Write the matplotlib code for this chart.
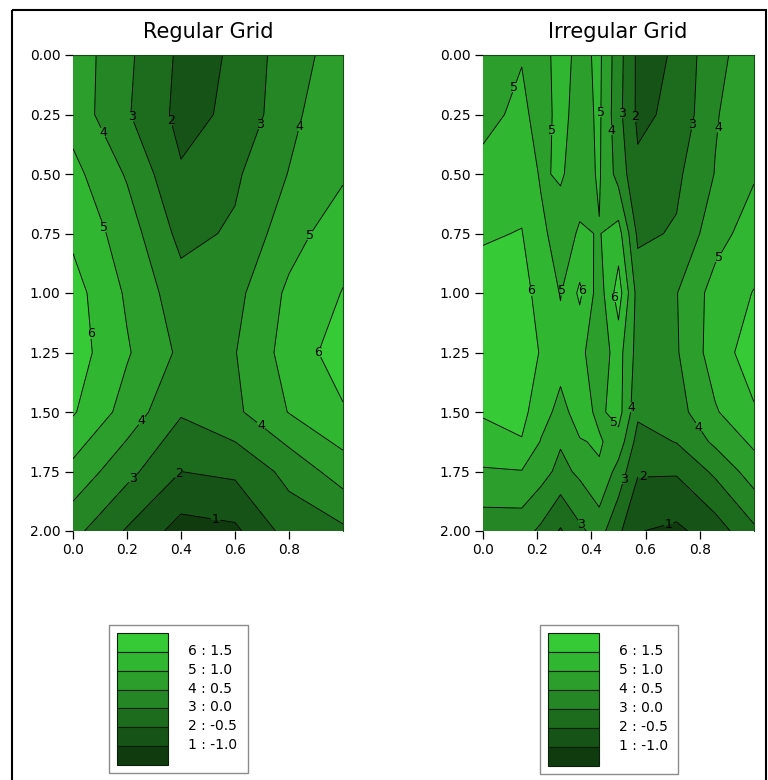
import numpy as np
import matplotlib
matplotlib.use('Agg')
import matplotlib.pyplot as plt
from matplotlib.patches import Rectangle

plt.rcParams['font.family'] = ['DejaVu Sans']

# contour levels and their short names
levels = [-1.0, -0.5, 0.0, 0.5, 1.0, 1.5]
level_names = ['1', '2', '3', '4', '5', '6']
# fill colours from lowest band (< -1.0) to highest (> 1.5)
band_colors = ['#0f3b0f', '#165316', '#1d6c1d', '#248624', '#2b9e2b', '#30b630', '#36ca36']

# regular grid
reg_x = [0.0, 0.2, 0.4, 0.6, 0.8, 1.0]
reg_y = [0.0, 0.25, 0.5, 0.75, 1.0, 1.25, 1.5, 1.75, 2.0]
reg_z = [
    [0.80, 0.10, -0.60, -0.47, 0.31, 0.70],
    [0.80, 0.05, -0.65, -0.40, 0.35, 0.95],
    [1.15, 0.45, -0.45, -0.08, 0.52, 0.93],
    [1.40, 0.75, -0.15, 0.07, 0.79, 1.31],
    [1.70, 0.93, 0.21, 0.35, 1.10, 1.52],
    [1.75, 1.05, 0.40, 0.48, 1.20, 1.75],
    [1.55, 0.80, 0.05, 0.40, 1.02, 1.45],
    [0.85, 0.15, -0.50, -0.40, 0.15, 0.75],
    [0.15, -0.55, -1.20, -1.10, -0.30, -0.10],
]

# irregular grid
irr_x = [0.0, 0.143, 0.214, 0.286, 0.357, 0.429, 0.5, 0.571, 0.714, 0.857, 1.0]
irr_y = [0.0, 0.25, 0.5, 0.75, 1.0, 1.25, 1.5, 1.625, 1.75, 2.0]
irr_z = [
    [0.80, 0.97, 0.80, 1.20, 0.85, 1.10, 0.20, -0.60, -0.47, 0.42, 0.65],
    [0.85, 1.12, 0.80, 1.15, 0.80, 1.08, 0.15, -0.60, -0.39, 0.46, 0.85],
    [1.15, 1.30, 0.95, 1.05, 0.80, 1.05, 0.30, -0.40, -0.10, 0.52, 0.95],
    [1.45, 1.52, 1.10, 0.80, 1.05, 0.98, 1.20, -0.10, 0.05, 0.80, 1.25],
    [1.70, 1.60, 1.40, 0.97, 1.60, 0.75, 1.75, 0.30, 0.48, 1.20, 1.52],
    [1.75, 1.65, 1.48, 1.20, 1.10, 0.75, 1.20, 0.30, 0.45, 1.25, 1.75],
    [1.55, 1.65, 1.20, 0.85, 1.20, 0.90, 1.20, 0.10, 0.30, 0.95, 1.45],
    [1.30, 1.47, 0.97, 0.55, 0.97, 1.05, 0.80, -0.20, 0.02, 0.60, 1.10],
    [0.95, 0.98, 0.70, 0.35, 0.60, 0.95, 0.30, -0.45, -0.45, 0.10, 0.75],
    [0.20, 0.20, -0.10, -0.55, -0.10, 0.20, -0.40, -0.98, -1.10, -0.75, -0.10],
]

# where the contour numbers sit
reg_label_pos = [(0.12, 0.32), (0.24, 0.25), (0.38, 0.27), (0.69, 0.29), (0.84, 0.30),
                 (0.09, 0.735), (0.88, 0.76), (0.08, 1.17), (0.91, 1.25), (0.27, 1.55),
                 (0.68, 1.58), (0.23, 1.79), (0.40, 1.77), (0.53, 1.93)]
irr_label_pos = [(0.124, 0.14), (0.24, 0.315), (0.43, 0.24), (0.48, 0.315), (0.517, 0.245),
                 (0.567, 0.26), (0.78, 0.295), (0.886, 0.307), (0.875, 0.855), (0.185, 0.99),
                 (0.295, 0.99), (0.37, 0.99), (0.475, 1.02), (0.535, 1.48), (0.487, 1.54),
                 (0.775, 1.58), (0.512, 1.78), (0.59, 1.79), (0.678, 1.94), (0.364, 1.97)]

W, H = 768, 780
fig = plt.figure(figsize=(W / 100, H / 100), dpi=100)


def px_axes(left, top, right, bottom):
    return fig.add_axes([left / W, 1 - bottom / H, (right - left) / W, (bottom - top) / H])


def contour_panel(ax, x, y, z, label_pos):
    z = np.array(z)
    bounds = [-10] + levels + [10]
    ax.contourf(x, y, z, levels=bounds, colors=band_colors)
    cs = ax.contour(x, y, z, levels=levels, colors='black', linewidths=0.65,
                    linestyles='solid')
    fmt = {lv: nm for lv, nm in zip(cs.levels, level_names)}
    txt = ax.clabel(cs, fmt=fmt, manual=label_pos, inline=True, fontsize=9, inline_spacing=1)
    for t in txt:
        t.set_rotation(0)
    ax.set_xlim(0, 1)
    ax.set_ylim(2, 0)
    ax.set_xticks([0.0, 0.2, 0.4, 0.6, 0.8])
    ax.set_xticklabels(['0.0', '0.2', '0.4', '0.6', '0.8'])
    ax.set_yticks(reg_y)
    ax.set_yticklabels(['%.2f' % v for v in reg_y])
    ax.tick_params(direction='out', length=6, width=0.9, labelsize=10, pad=3,
                   top=False, right=False)
    for side in ['top', 'right']:
        ax.spines[side].set_color('#164a16')
    for side in ['left', 'bottom']:
        ax.spines[side].set_visible(False)


ax1 = px_axes(73, 55, 343, 531)
contour_panel(ax1, reg_x, reg_y, reg_z, reg_label_pos)
ax2 = px_axes(483, 55, 754, 531)
contour_panel(ax2, irr_x, irr_y, irr_z, irr_label_pos)

fig.text(208 / W, 1 - 32 / H, 'Regular Grid', ha='center', va='center', fontsize=15)
fig.text(618 / W, 1 - 32 / H, 'Irregular Grid', ha='center', va='center', fontsize=15)

# overlay in pixel units for the frame and the keys
over = fig.add_axes([0, 0, 1, 1])
over.set_xlim(0, W)
over.set_ylim(H, 0)
over.axis('off')
over.patch.set_visible(False)
over.add_patch(Rectangle((12, 10), 754, 800, fill=False, edgecolor='black', linewidth=1.5))


def draw_key(box_left, box_top, box_right, box_bottom, bar_left, bar_right, bar_top, bar_bottom, text_x):
    over.add_patch(Rectangle((box_left, box_top), box_right - box_left, box_bottom - box_top,
                             fill=False, edgecolor='#8c8c8c', linewidth=1.0))
    n = len(band_colors)
    step = (bar_bottom - bar_top) / n
    for i, col in enumerate(band_colors[::-1]):
        over.add_patch(Rectangle((bar_left, bar_top + i * step), bar_right - bar_left, step,
                                 facecolor=col, edgecolor='#0a200a', linewidth=0.8))
    for i, (nm, lv) in enumerate(zip(level_names[::-1], levels[::-1])):
        over.text(text_x, bar_top + (i + 1) * step - 1, '%s : %.1f' % (nm, lv),
                  ha='left', va='center', fontsize=10)


draw_key(109, 625, 248, 773, 117, 168, 633, 765, 188)
draw_key(540, 625, 678, 774, 548, 599, 633, 766, 619)

fig.savefig('out.png', dpi=100)
